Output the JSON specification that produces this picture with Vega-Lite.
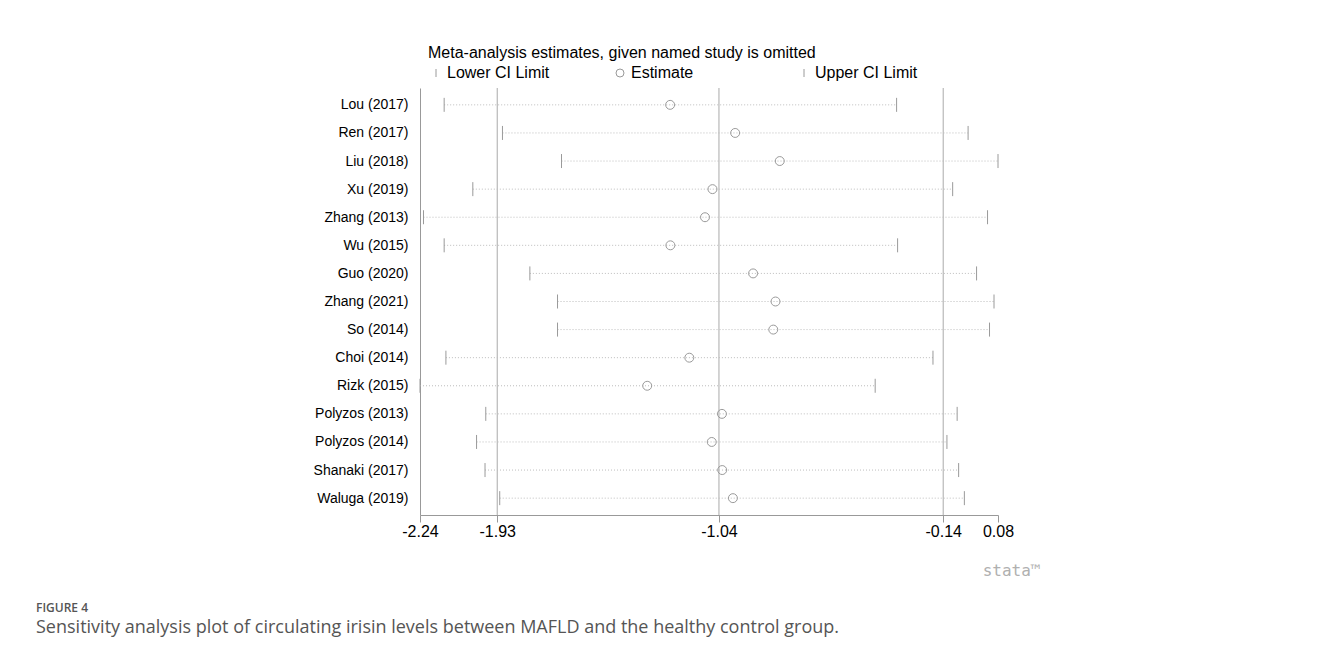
{
  "$schema": "https://vega.github.io/schema/vega-lite/v6.json",
  "width": 578,
  "height": 427,
  "autosize": {"type": "none"},
  "padding": {"left": 420, "top": 88, "right": 324, "bottom": 147},
  "background": "white",
  "title": {
    "text": "FIGURE 4",
    "subtitle": "Sensitivity analysis plot of circulating irisin levels between MAFLD and the healthy control group.",
    "orient": "bottom",
    "anchor": "start",
    "frame": "group",
    "dx": -384,
    "offset": 25,
    "font": "Open Sans",
    "fontSize": 12,
    "fontWeight": 600,
    "color": "#555555",
    "subtitleFont": "Open Sans",
    "subtitleFontSize": 18,
    "subtitleColor": "#555555",
    "subtitlePadding": 4
  },
  "datasets": {
    "refs": [{"v": -1.93}, {"v": -1.04}, {"v": -0.14}],
    "studies": [
      {"study": "Lou (2017)", "Lower CI Limit": -2.143, "Estimate": -1.236, "Upper CI Limit": -0.327},
      {"study": "Ren (2017)", "Lower CI Limit": -1.909, "Estimate": -0.975, "Upper CI Limit": -0.040},
      {"study": "Liu (2018)", "Lower CI Limit": -1.672, "Estimate": -0.796, "Upper CI Limit": 0.080},
      {"study": "Xu (2019)", "Lower CI Limit": -2.028, "Estimate": -1.066, "Upper CI Limit": -0.102},
      {"study": "Zhang (2013)", "Lower CI Limit": -2.226, "Estimate": -1.096, "Upper CI Limit": 0.038},
      {"study": "Wu (2015)", "Lower CI Limit": -2.143, "Estimate": -1.235, "Upper CI Limit": -0.323},
      {"study": "Guo (2020)", "Lower CI Limit": -1.799, "Estimate": -0.903, "Upper CI Limit": -0.006},
      {"study": "Zhang (2021)", "Lower CI Limit": -1.688, "Estimate": -0.813, "Upper CI Limit": 0.064},
      {"study": "So (2014)", "Lower CI Limit": -1.688, "Estimate": -0.822, "Upper CI Limit": 0.046},
      {"study": "Choi  (2014)", "Lower CI Limit": -2.136, "Estimate": -1.159, "Upper CI Limit": -0.181},
      {"study": "Rizk (2015)", "Lower CI Limit": -2.240, "Estimate": -1.328, "Upper CI Limit": -0.413},
      {"study": "Polyzos (2013)", "Lower CI Limit": -1.976, "Estimate": -1.028, "Upper CI Limit": -0.084},
      {"study": "Polyzos (2014)", "Lower CI Limit": -2.013, "Estimate": -1.069, "Upper CI Limit": -0.125},
      {"study": "Shanaki  (2017)", "Lower CI Limit": -1.979, "Estimate": -1.027, "Upper CI Limit": -0.078},
      {"study": "Waluga (2019)", "Lower CI Limit": -1.920, "Estimate": -0.984, "Upper CI Limit": -0.055}
    ]
  },
  "layer": [
    {
      "data": {"name": "refs"},
      "mark": {"type": "rule", "color": "#aaaaaa", "strokeWidth": 1},
      "encoding": {
        "x": {"field": "v", "type": "quantitative", "scale": {"domain": [-2.24, 0.08], "nice": false, "zero": false}}
      }
    },
    {
      "data": {"name": "studies"},
      "mark": {"type": "rule", "color": "#bdbdbd", "strokeDash": [1, 2], "strokeWidth": 1},
      "encoding": {
        "x": {"field": "Lower CI Limit", "type": "quantitative", "scale": {"domain": [-2.24, 0.08], "nice": false, "zero": false}},
        "x2": {"field": "Upper CI Limit"},
        "y": {"field": "study", "type": "nominal", "sort": null, "scale": {"type": "point", "padding": 0.6}}
      }
    },
    {
      "data": {"name": "studies"},
      "transform": [{"fold": ["Lower CI Limit", "Estimate", "Upper CI Limit"], "as": ["series", "value"]}],
      "mark": {"type": "point", "filled": false, "strokeWidth": 1, "color": "#9a9a9a", "opacity": 1},
      "encoding": {
        "x": {
          "field": "value", "type": "quantitative",
          "scale": {"domain": [-2.24, 0.08], "nice": false, "zero": false},
          "axis": {
            "values": [-2.24, -1.93, -1.04, -0.14, 0.08],
            "format": ".2f",
            "labelExpr": "replace(datum.label, '\u2212', '-')",
            "grid": false,
            "domainColor": "#999999",
            "tickColor": "#999999",
            "tickSize": 7,
            "labelFont": "Liberation Sans",
            "labelFontSize": 16,
            "labelColor": "#000000",
            "labelPadding": 1,
            "labelFlush": false,
            "labelOverlap": false,
            "title": "stata™",
            "titleFont": "DejaVu Sans Mono",
            "titleFontSize": 16,
            "titleFontWeight": "normal",
            "titleColor": "#b0b0b0",
            "titleX": 620,
            "titleY": 55,
            "titleAlign": "right",
            "titleBaseline": "middle"
          }
        },
        "y": {
          "field": "study", "type": "nominal", "sort": null,
          "scale": {"type": "point", "padding": 0.6},
          "axis": {
            "title": null,
            "grid": false,
            "ticks": false,
            "domainColor": "#999999",
            "labelFont": "Liberation Sans",
            "labelFontSize": 14,
            "labelColor": "#000000",
            "labelPadding": 12
          }
        },
        "shape": {
          "field": "series", "type": "nominal",
          "scale": {"domain": ["Lower CI Limit", "Estimate", "Upper CI Limit"], "range": ["M0,-1L0,1", "circle", "M0,-1L0,1"]},
          "legend": {
            "title": "Meta-analysis estimates, given named study is omitted",
            "orient": "none",
            "legendX": 8,
            "legendY": -43,
            "direction": "horizontal",
            "columns": 3,
            "gridAlign": "all",
            "columnPadding": 62,
            "padding": 0,
            "symbolSize": 64,
            "symbolStrokeWidth": 1,
            "symbolStrokeColor": "#9a9a9a",
            "symbolFillColor": "white",
            "labelFont": "Liberation Sans",
            "labelFontSize": 16,
            "labelColor": "#000000",
            "labelOffset": 3,
            "labelLimit": 300,
            "titleFont": "Liberation Sans",
            "titleFontSize": 16,
            "titleFontWeight": "normal",
            "titleColor": "#000000",
            "titlePadding": 4,
            "titleLimit": 700
          }
        },
        "size": {"condition": {"test": "datum.series === 'Estimate'", "value": 80}, "value": 196}
      }
    }
  ],
  "config": {"view": {"stroke": null}}
}
